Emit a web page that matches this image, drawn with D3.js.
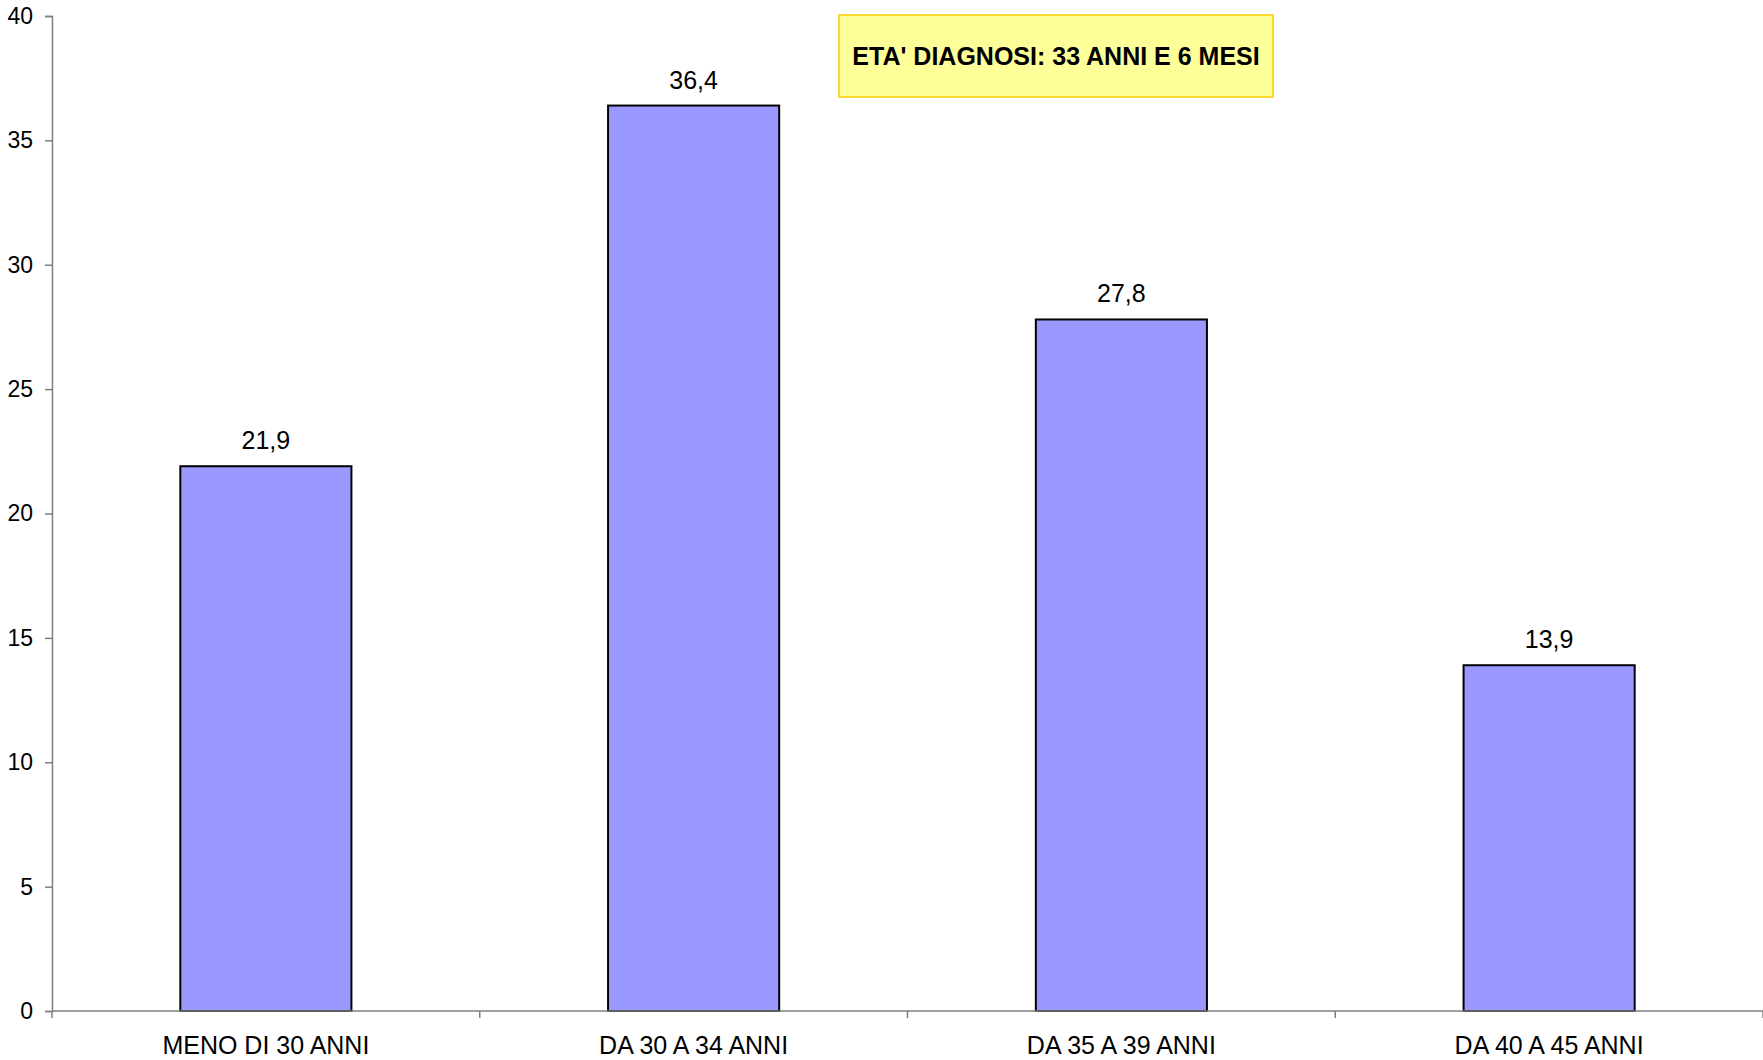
<!DOCTYPE html>
<html>
<head>
<meta charset="utf-8">
<script src="https://cdn.jsdelivr.net/npm/d3@7"></script>
<style>
  html, body { margin: 0; padding: 0; background: #fff; }
  svg { display: block; }
  text { font-family: "Liberation Sans", Arial, sans-serif; fill: #000; }
</style>
</head>
<body>
<svg id="chart" width="1763" height="1060"></svg>
<script>
// Age at diagnosis, percentage per age group
const categories = ["MENO DI 30 ANNI", "DA 30 A 34 ANNI", "DA 35 A 39 ANNI", "DA 40 A 45 ANNI"];
const values = [21.9, 36.4, 27.8, 13.9];
const valueLabels = ["21,9", "36,4", "27,8", "13,9"];
const yTicks = [0, 5, 10, 15, 20, 25, 30, 35, 40];
const noteText = "ETA' DIAGNOSI: 33 ANNI E 6 MESI";

const svg = d3.select("#chart");
const margin = { left: 52, right: 0, top: 16, bottom: 49 };
const W = 1763, H = 1060;
const plotBottom = H - margin.bottom;

const x = d3.scaleBand()
  .domain(categories)
  .range([margin.left, W - margin.right])
  .paddingInner(0.6)
  .paddingOuter(0.3);

const y = d3.scaleLinear().domain([0, 40]).range([plotBottom, margin.top]);

// Bars
svg.append("g").selectAll("rect")
  .data(values)
  .join("rect")
  .attr("x", (d, i) => x(categories[i]))
  .attr("y", d => y(d))
  .attr("width", x.bandwidth())
  .attr("height", d => y(0) - y(d))
  .attr("fill", "#9999FF")
  .attr("stroke", "#000")
  .attr("stroke-width", 2);

// Value labels above bars
svg.append("g").selectAll("text")
  .data(values)
  .join("text")
  .attr("x", (d, i) => x(categories[i]) + x.bandwidth() / 2)
  .attr("y", d => y(d) - 17)
  .attr("text-anchor", "middle")
  .attr("font-size", 25)
  .text((d, i) => valueLabels[i]);

// Y axis
const yAxis = svg.append("g")
  .attr("transform", `translate(${margin.left},0)`)
  .call(d3.axisLeft(y).tickValues(yTicks).tickSize(7).tickPadding(12).tickFormat(d3.format("d")));
yAxis.select(".domain").attr("stroke", "#7f7f7f").attr("stroke-width", 1.5);
yAxis.selectAll(".tick line").attr("stroke", "#7f7f7f").attr("stroke-width", 1.5);
yAxis.selectAll(".tick text").attr("font-size", 23).attr("font-family", "Liberation Sans, Arial, sans-serif").attr("fill", "#000");

// X axis: baseline, category boundary ticks and labels
const step = x.step();
const boundaries = d3.range(categories.length + 1).map(i => margin.left + i * (W - margin.right - margin.left) / categories.length);
const xAxis = svg.append("g");
xAxis.append("line")
  .attr("x1", margin.left).attr("x2", W - margin.right)
  .attr("y1", y(0)).attr("y2", y(0))
  .attr("stroke", "#7f7f7f").attr("stroke-width", 1.5);
xAxis.selectAll("line.tk")
  .data(boundaries)
  .join("line")
  .attr("class", "tk")
  .attr("x1", d => d).attr("x2", d => d)
  .attr("y1", y(0)).attr("y2", y(0) + 7)
  .attr("stroke", "#7f7f7f").attr("stroke-width", 1.5);
xAxis.selectAll("text")
  .data(categories)
  .join("text")
  .attr("x", d => x(d) + x.bandwidth() / 2)
  .attr("y", 1054)
  .attr("text-anchor", "middle")
  .attr("font-size", 25)
  .text(d => d);

// Note box
const note = svg.append("g");
note.append("rect")
  .attr("x", 839).attr("y", 15)
  .attr("width", 434).attr("height", 82)
  .attr("fill", "#FFFF99")
  .attr("stroke", "#FFCC00")
  .attr("stroke-width", 1.5);
note.append("text")
  .attr("x", 839 + 217).attr("y", 65)
  .attr("text-anchor", "middle")
  .attr("font-size", 25)
  .attr("font-weight", "bold")
  .text(noteText);
</script>
</body>
</html>
